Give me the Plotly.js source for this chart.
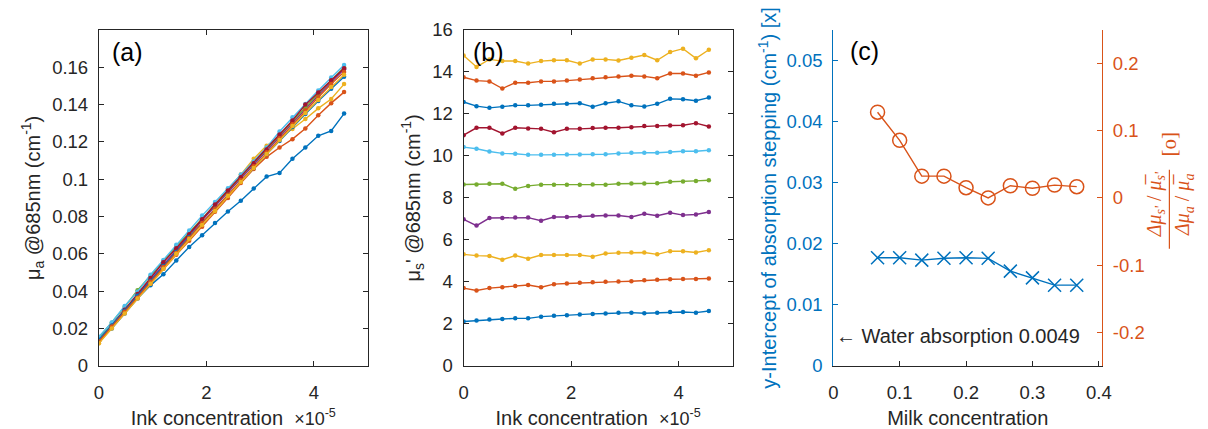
<!DOCTYPE html>
<html>
<head>
<meta charset="utf-8">
<script src="https://cdn.plot.ly/plotly-3.0.1.min.js"></script>
<style>html,body{margin:0;padding:0;background:#fff;}#chart{width:1208px;height:429px;}</style>
</head>
<body>
<div id="chart"></div>
<script>
// Ink concentration (in units of 1e-5)
const inkConc = [0, 0.24, 0.48, 0.72, 0.96, 1.20, 1.44, 1.68, 1.92, 2.16, 2.40, 2.64, 2.88, 3.12, 3.36, 3.60, 3.84, 4.08, 4.32, 4.56];

// Panel (a): absorption coefficient mu_a @685nm (cm^-1), one series per milk concentration
const muaS1  = [0.0130, 0.0200, 0.0280, 0.0360, 0.0431, 0.0490, 0.0564, 0.0637, 0.0700, 0.0765, 0.0827, 0.0885, 0.0950, 0.1014, 0.1034, 0.1110, 0.1170, 0.1233, 0.1259, 0.1352];
const muaS2  = [0.0130, 0.0210, 0.0290, 0.0365, 0.0440, 0.0520, 0.0595, 0.0670, 0.0745, 0.0825, 0.0900, 0.0980, 0.1055, 0.1120, 0.1170, 0.1215, 0.1272, 0.1343, 0.1408, 0.1467];
const muaS3  = [0.0120, 0.0205, 0.0290, 0.0370, 0.0455, 0.0535, 0.0620, 0.0700, 0.0780, 0.0865, 0.0945, 0.1025, 0.1110, 0.1180, 0.1224, 0.1269, 0.1323, 0.1380, 0.1430, 0.1510];
const muaS4  = [0.0140, 0.0220, 0.0300, 0.0380, 0.0465, 0.0545, 0.0625, 0.0700, 0.0780, 0.0855, 0.0930, 0.1005, 0.1080, 0.1155, 0.1230, 0.1305, 0.1375, 0.1450, 0.1520, 0.1590];
const muaS5  = [0.0150, 0.0230, 0.0315, 0.0405, 0.0480, 0.0560, 0.0640, 0.0715, 0.0790, 0.0865, 0.0940, 0.1015, 0.1090, 0.1165, 0.1240, 0.1315, 0.1385, 0.1460, 0.1530, 0.1600];
const muaS6  = [0.0155, 0.0232, 0.0320, 0.0397, 0.0488, 0.0567, 0.0649, 0.0725, 0.0805, 0.0878, 0.0952, 0.1026, 0.1095, 0.1170, 0.1256, 0.1332, 0.1403, 0.1476, 0.1545, 0.1612];
const muaS7  = [0.0130, 0.0215, 0.0300, 0.0385, 0.0470, 0.0555, 0.0630, 0.0705, 0.0785, 0.0865, 0.0940, 0.1010, 0.1085, 0.1160, 0.1240, 0.1315, 0.1400, 0.1465, 0.1530, 0.1595];
const muaS8  = [0.0140, 0.0215, 0.0295, 0.0375, 0.0455, 0.0535, 0.0610, 0.0690, 0.0765, 0.0840, 0.0915, 0.0990, 0.1060, 0.1135, 0.1205, 0.1280, 0.1350, 0.1420, 0.1485, 0.1550];
const muaS9  = [0.0130, 0.0210, 0.0290, 0.0365, 0.0450, 0.0530, 0.0605, 0.0685, 0.0765, 0.0840, 0.0915, 0.0995, 0.1070, 0.1145, 0.1220, 0.1295, 0.1370, 0.1440, 0.1510, 0.1575];
const muaS10 = [0.0120, 0.0200, 0.0280, 0.0360, 0.0440, 0.0520, 0.0600, 0.0680, 0.0755, 0.0830, 0.0910, 0.0985, 0.1060, 0.1135, 0.1210, 0.1285, 0.1355, 0.1425, 0.1495, 0.1560];

// Panel (b): reduced scattering coefficient mu_s' @685nm (cm^-1)
const muspS1  = [2.11, 2.16, 2.20, 2.23, 2.26, 2.26, 2.34, 2.38, 2.41, 2.44, 2.47, 2.49, 2.52, 2.53, 2.50, 2.53, 2.56, 2.56, 2.53, 2.61];
const muspS2  = [3.70, 3.59, 3.70, 3.74, 3.80, 3.85, 3.74, 3.89, 3.92, 3.95, 3.98, 4.00, 4.01, 4.03, 4.07, 4.10, 4.12, 4.13, 4.13, 4.16];
const muspS3  = [5.31, 5.25, 5.23, 5.05, 5.25, 5.10, 5.28, 5.28, 5.28, 5.28, 5.20, 5.35, 5.38, 5.40, 5.40, 5.31, 5.46, 5.46, 5.40, 5.51];
const muspS4  = [6.98, 6.68, 7.04, 7.04, 7.06, 7.06, 6.91, 7.09, 7.09, 7.12, 7.15, 7.16, 7.16, 7.09, 7.24, 7.15, 7.29, 7.18, 7.21, 7.33];
const muspS5  = [8.64, 8.64, 8.67, 8.67, 8.43, 8.57, 8.63, 8.63, 8.63, 8.63, 8.64, 8.63, 8.67, 8.69, 8.69, 8.70, 8.77, 8.78, 8.81, 8.84];
const muspS6  = [10.42, 10.34, 10.21, 10.12, 10.10, 10.05, 10.05, 10.05, 10.07, 10.07, 10.08, 10.08, 10.12, 10.15, 10.15, 10.15, 10.19, 10.22, 10.22, 10.27];
const muspS7  = [10.99, 11.34, 11.34, 11.07, 11.34, 11.31, 11.29, 11.13, 11.29, 11.29, 11.33, 11.34, 11.34, 11.37, 11.43, 11.43, 11.45, 11.46, 11.56, 11.40];
const muspS8  = [12.57, 12.37, 12.29, 12.34, 12.41, 12.41, 12.44, 12.48, 12.48, 12.51, 12.34, 12.51, 12.60, 12.41, 12.35, 12.48, 12.72, 12.70, 12.63, 12.78];
const muspS9  = [13.75, 13.59, 13.55, 13.21, 13.49, 13.49, 13.55, 13.55, 13.59, 13.64, 13.70, 13.75, 13.78, 13.82, 13.79, 13.70, 13.93, 13.93, 13.82, 13.98];
const muspS10 = [14.79, 14.24, 14.60, 14.52, 14.52, 14.40, 14.52, 14.56, 14.56, 14.40, 14.60, 14.60, 14.55, 14.68, 14.81, 14.56, 14.95, 15.11, 14.65, 15.06];

// Panel (c)
const milkConc = [0.0667, 0.1000, 0.1333, 0.1667, 0.2000, 0.2333, 0.2667, 0.3000, 0.3333, 0.3667];
const yIntercept = [0.0177, 0.0177, 0.0173, 0.0176, 0.0177, 0.0176, 0.0155, 0.0144, 0.0132, 0.0132];
const crosstalk = [0.1276, 0.0857, 0.0324, 0.0324, 0.0152, 0.0000, 0.0181, 0.0143, 0.0190, 0.0167];
const waterAbsorption = 0.0049;

// Tick labels
const inkTicks = [0, 2, 4];
const inkTickText = ['0', '2', '4'];
const muaTicks = [0, 0.02, 0.04, 0.06, 0.08, 0.10, 0.12, 0.14, 0.16];
const muaTickText = ['0', '0.02', '0.04', '0.06', '0.08', '0.1', '0.12', '0.14', '0.16'];
const muspTicks = [0, 2, 4, 6, 8, 10, 12, 14, 16];
const muspTickText = ['0', '2', '4', '6', '8', '10', '12', '14', '16'];
const milkTicks = [0, 0.1, 0.2, 0.3, 0.4];
const milkTickText = ['0', '0.1', '0.2', '0.3', '0.4'];
const interceptTicks = [0, 0.01, 0.02, 0.03, 0.04, 0.05];
const interceptTickText = ['0', '0.01', '0.02', '0.03', '0.04', '0.05'];
const crosstalkTicks = [-0.2, -0.1, 0, 0.1, 0.2];
const crosstalkTickText = ['-0.2', '-0.1', '0', '0.1', '0.2'];

const muaSeries = [muaS1, muaS2, muaS3, muaS4, muaS5, muaS6, muaS7, muaS8, muaS9, muaS10];
const muspSeries = [muspS1, muspS2, muspS3, muspS4, muspS5, muspS6, muspS7, muspS8, muspS9, muspS10];
const colors = ['#0072BD', '#D95319', '#EDB120', '#7E2F8E', '#77AC30', '#4DBEEE', '#A2142F', '#0072BD', '#D95319', '#EDB120'];
const BLUE = '#0072BD', ORANGE = '#D95319', AX = '#262626';

const traces = [];
muaSeries.forEach((s, i) => traces.push({
  x: inkConc, y: s, xaxis: 'x', yaxis: 'y', type: 'scatter', mode: 'lines+markers',
  line: {color: colors[i], width: 1.4}, marker: {color: colors[i], size: 4.5}
}));
muspSeries.forEach((s, i) => traces.push({
  x: inkConc, y: s, xaxis: 'x2', yaxis: 'y2', type: 'scatter', mode: 'lines+markers',
  line: {color: colors[i], width: 1.4}, marker: {color: colors[i], size: 4.5}
}));
traces.push({
  x: milkConc, y: yIntercept, xaxis: 'x3', yaxis: 'y3', type: 'scatter', mode: 'lines+markers',
  line: {color: BLUE, width: 1.4}, marker: {symbol: 'x-thin-open', size: 13, line: {color: BLUE, width: 1.5}}
});
traces.push({
  x: milkConc, y: crosstalk, xaxis: 'x3', yaxis: 'y4', type: 'scatter', mode: 'lines+markers',
  line: {color: ORANGE, width: 1.4}, marker: {symbol: 'circle-open', size: 14, color: ORANGE, line: {color: ORANGE, width: 1.5}}
});

const yDom = [0.1305, 0.9534];
function baseAxis(extra) {
  return Object.assign({
    ticks: 'inside', ticklen: 5, tickcolor: AX, showline: true, linecolor: AX, linewidth: 1,
    showgrid: false, zeroline: false, automargin: true, tickfont: {size: 18.5, color: AX}
  }, extra);
}
const inkTitle = 'Ink concentration  <span style="font-size:18px">×10<sup>-5</sup></span>';
const mathFont = '"Liberation Serif", "DejaVu Serif", serif';

const layout = {
  width: 1208, height: 429,
  margin: {l: 0, r: 0, t: 0, b: 0},
  paper_bgcolor: '#fff', plot_bgcolor: '#fff',
  showlegend: false,
  font: {family: '"Liberation Sans", Arial, sans-serif', color: AX, size: 18.5},
  xaxis: baseAxis({domain: [0.0786, 0.3038], anchor: 'y', range: [0, 5], tickvals: inkTicks, ticktext: inkTickText, mirror: 'ticks', ticklabelstandoff: 10,
    title: {text: inkTitle, font: {size: 20, color: AX}, standoff: 10}}),
  yaxis: baseAxis({domain: yDom, anchor: 'x', range: [0, 0.18], tickvals: muaTicks, ticktext: muaTickText, mirror: 'ticks', ticklabelstandoff: 6,
    title: {text: 'μ<sub>a</sub> @685nm (cm<sup>-1</sup>)', font: {size: 20, color: AX}, standoff: 6}}),
  xaxis2: baseAxis({domain: [0.3841, 0.6093], anchor: 'y2', range: [0, 5], tickvals: inkTicks, ticktext: inkTickText, mirror: 'ticks', ticklabelstandoff: 10,
    title: {text: inkTitle, font: {size: 20, color: AX}, standoff: 10}}),
  yaxis2: baseAxis({domain: yDom, anchor: 'x2', range: [0, 16], tickvals: muspTicks, ticktext: muspTickText, mirror: 'ticks', ticklabelstandoff: 6,
    title: {text: 'μ<sub>s</sub>\' @685nm (cm<sup>-1</sup>)', font: {size: 20, color: AX}, standoff: 6}}),
  xaxis3: baseAxis({domain: [0.6937, 0.9189], anchor: 'y3', range: [0, 0.405], tickvals: milkTicks, ticktext: milkTickText, ticklabelstandoff: 10,
    title: {text: 'Milk concentration', font: {size: 20, color: AX}, standoff: 10}}),
  yaxis3: baseAxis({domain: yDom, anchor: 'x3', range: [0, 0.055], tickvals: interceptTicks, ticktext: interceptTickText,
    linecolor: BLUE, tickcolor: BLUE, tickfont: {size: 18.5, color: BLUE}, ticklabelstandoff: 6,
    title: {text: 'y-Intercept of absorption stepping (cm<sup>-1</sup>) [x]', font: {size: 20, color: BLUE}, standoff: 4}}),
  yaxis4: baseAxis({domain: yDom, anchor: 'x3', overlaying: 'y3', side: 'right', range: [-0.25, 0.25], tickvals: crosstalkTicks, ticktext: crosstalkTickText,
    linecolor: ORANGE, tickcolor: ORANGE, tickfont: {size: 18.5, color: ORANGE}, ticklabelstandoff: 6}),
  annotations: [
    {xref: 'paper', yref: 'paper', x: 0.0877, y: 0.8998, xanchor: 'left', yanchor: 'middle', text: '(a)', showarrow: false, font: {size: 25, color: '#000'}},
    {xref: 'paper', yref: 'paper', x: 0.3907, y: 0.8998, xanchor: 'left', yanchor: 'middle', text: '(b)', showarrow: false, font: {size: 25, color: '#000'}},
    {xref: 'paper', yref: 'paper', x: 0.7061, y: 0.9021, xanchor: 'left', yanchor: 'middle', text: '(c)', showarrow: false, font: {size: 25, color: '#000'}},
    {xref: 'x3', yref: 'y3', x: 0, y: waterAbsorption, xanchor: 'left', yanchor: 'middle', xshift: 1, text: '← Water absorption 0.0049', showarrow: false, font: {size: 20, color: AX}},
    {xref: 'paper', yref: 'paper', x: 0.9636, y: 0.525, xanchor: 'center', yanchor: 'middle', textangle: -90, showarrow: false,
      text: '<i>Δμ<sub>s\'</sub></i> / <i>μ̅<sub>s\'</sub></i>', font: {family: mathFont, size: 20, color: ORANGE}},
    {xref: 'paper', yref: 'paper', x: 0.9876, y: 0.525, xanchor: 'center', yanchor: 'middle', textangle: -90, showarrow: false,
      text: '<i>Δμ<sub>a</sub></i> / <i>μ̅<sub>a</sub></i>', font: {family: mathFont, size: 20, color: ORANGE}},
    {xref: 'paper', yref: 'paper', x: 0.9752, y: 0.674, xanchor: 'center', yanchor: 'middle', textangle: -90, showarrow: false,
      text: '[o]', font: {family: mathFont, size: 21, color: ORANGE}}
  ],
  shapes: [
    {type: 'line', xref: 'paper', yref: 'paper', x0: 0.9752, x1: 0.9752, y0: 0.4172, y1: 0.6107, line: {color: ORANGE, width: 1.2}}
  ]
};

Plotly.newPlot('chart', traces, layout, {staticPlot: true, displayModeBar: false});
</script>
</body>
</html>
